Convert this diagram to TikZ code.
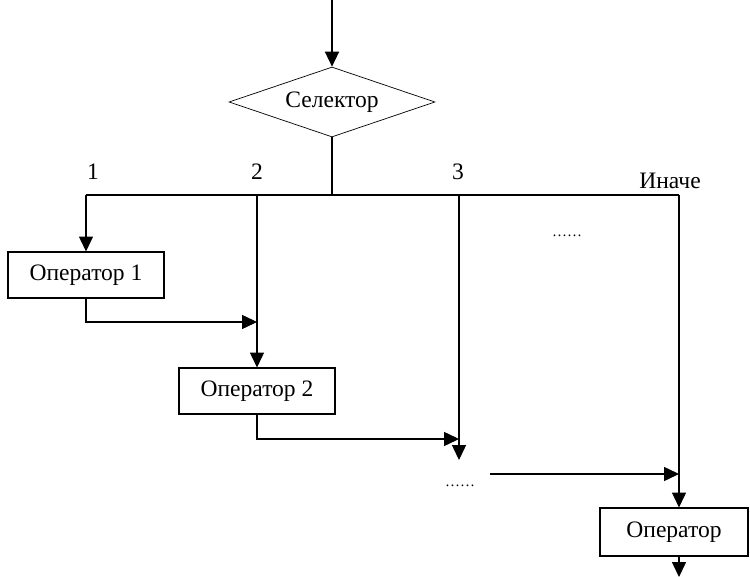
\documentclass[tikz,border=0pt,12pt]{standalone}
\usepackage{fontspec}
\setmainfont{Liberation Serif}
\usepackage{tikz}
\usetikzlibrary{arrows.meta}
\usetikzlibrary{shapes.geometric}

\begin{document}
\begin{tikzpicture}[x=0.02cm,y=-0.02cm,font=\fontsize{13.4}{16}\selectfont,
		arr/.style={-{Triangle[length=8.5pt,width=8pt]},semithick},
		opbox/.style={draw,semithick,minimum width=3.12cm,minimum height=0.92cm,inner sep=0pt},
		sel/.style={draw,thin,diamond,minimum width=4.12cm,minimum height=1.4cm,inner sep=0pt,aspect=2.9},
		dots/.style={font=\fontsize{8.5}{10}\selectfont}]
		\useasboundingbox (0,0) rectangle (750,577);
		\node[sel] (selector) at (332,102) {Селектор};
		\node[opbox] (op1) at (86,275) {Оператор 1};
		\node[opbox] (op2) at (257,391) {Оператор 2};
		\node[opbox,minimum width=2.96cm,minimum height=0.96cm] (op) at (674,532) {Оператор};
		\coordinate (in) at (332,0);
		\coordinate (b1) at (86,195);
		\coordinate (b2) at (257,195);
		\coordinate (b3) at (459,195);
		\coordinate (b4) at (679,195);
		\coordinate (j1) at (257,322);
		\coordinate (j2) at (459,439);
		\coordinate (e3) at (459,460);
		\coordinate (s4) at (490,474);
		\coordinate (j4) at (679,474);
		\coordinate (out) at (679,577);
		\node at (93,172) {1};
		\node at (257,172) {2};
		\node at (458,172) {3};
		\node at (670,181) {Иначе};
		\node[dots] at (567,236) {……};
		\node[dots] at (460,486) {……};
		\draw[arr] (in) -- (selector.north);
		\draw[semithick] (selector.south) -- (selector.south |- b1);
		\draw[semithick] (b1) -- (b4);
		\draw[arr] (b1) -- (op1.north);
		\draw[arr] (op1.south) |- (j1);
		\draw[arr] (b2) -- (op2.north);
		\draw[arr] (op2.south) |- (j2);
		\draw[arr] (b3) -- (e3);
		\draw[arr] (s4) -- (j4);
		\draw[arr] (b4) -- (b4 |- op.north);
		\draw[arr] (out |- op.south) -- (out);
	\end{tikzpicture}
\end{document}
